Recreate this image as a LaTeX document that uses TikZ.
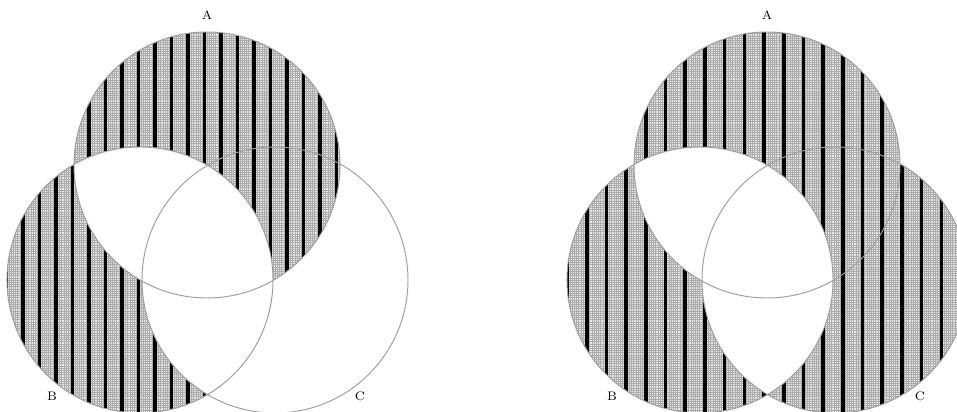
\documentclass[tikz,border=0pt]{standalone}
\begin{document}
\begin{tikzpicture}[x=0.02cm,y=0.02cm,font=\scriptsize,line join=round,line cap=round]
	\def\r{133} % radius
	\tikzset{rim/.style={draw=gray!75,line width=0.55pt},
		hatchbg/.style={fill=gray!18},
		fine/.style={draw=gray!65,line width=0.25pt}}
	\useasboundingbox (0,0) rectangle (957,412);

	% left diagram
	\coordinate (A1) at (207,247); \coordinate (B1) at (140,132); \coordinate (C1) at (275,132);
	\begin{scope}
		\clip (A1) circle (\r) (B1) circle (\r);
		\fill[hatchbg] (0,0) rectangle (480,412);
		\draw[fine,step=2.2] (0,0) grid (480,412);
		\foreach \k in {-13,...,9} \fill ({204.5+16.5*\k-1.8},0) rectangle +(3.6,412);
	\end{scope}
	\begin{scope}
		\clip (B1) circle (\r);
		\fill[white] (A1) circle (\r) (C1) circle (\r);
	\end{scope}
	\draw[rim] (A1) circle (\r) (B1) circle (\r) (C1) circle (\r);
	\node (la1) at (207,397) {A};
	\node (lb1) at (52,16) {B};
	\node (lc1) at (360,16) {C};

	% right diagram
	\coordinate (A2) at (767,247); \coordinate (B2) at (700,132); \coordinate (C2) at (835,132);
	\begin{scope}
		\clip (A2) circle (\r) (B2) circle (\r) (C2) circle (\r);
		\fill[hatchbg] (480,0) rectangle (970,412);
		\draw[fine,step=2.2] (480,0) grid (970,412);
		\foreach \k in {-10,...,10} \fill ({764+19.7*\k-1.8},0) rectangle +(3.6,412);
	\end{scope}
	\begin{scope}
		\clip (B2) circle (\r);
		\fill[white] (A2) circle (\r) (C2) circle (\r);
	\end{scope}
	\draw[rim] (A2) circle (\r) (B2) circle (\r) (C2) circle (\r);
	\node (la2) at (767,397) {A};
	\node (lb2) at (612,16) {B};
	\node (lc2) at (920,16) {C};
\end{tikzpicture}
\end{document}
